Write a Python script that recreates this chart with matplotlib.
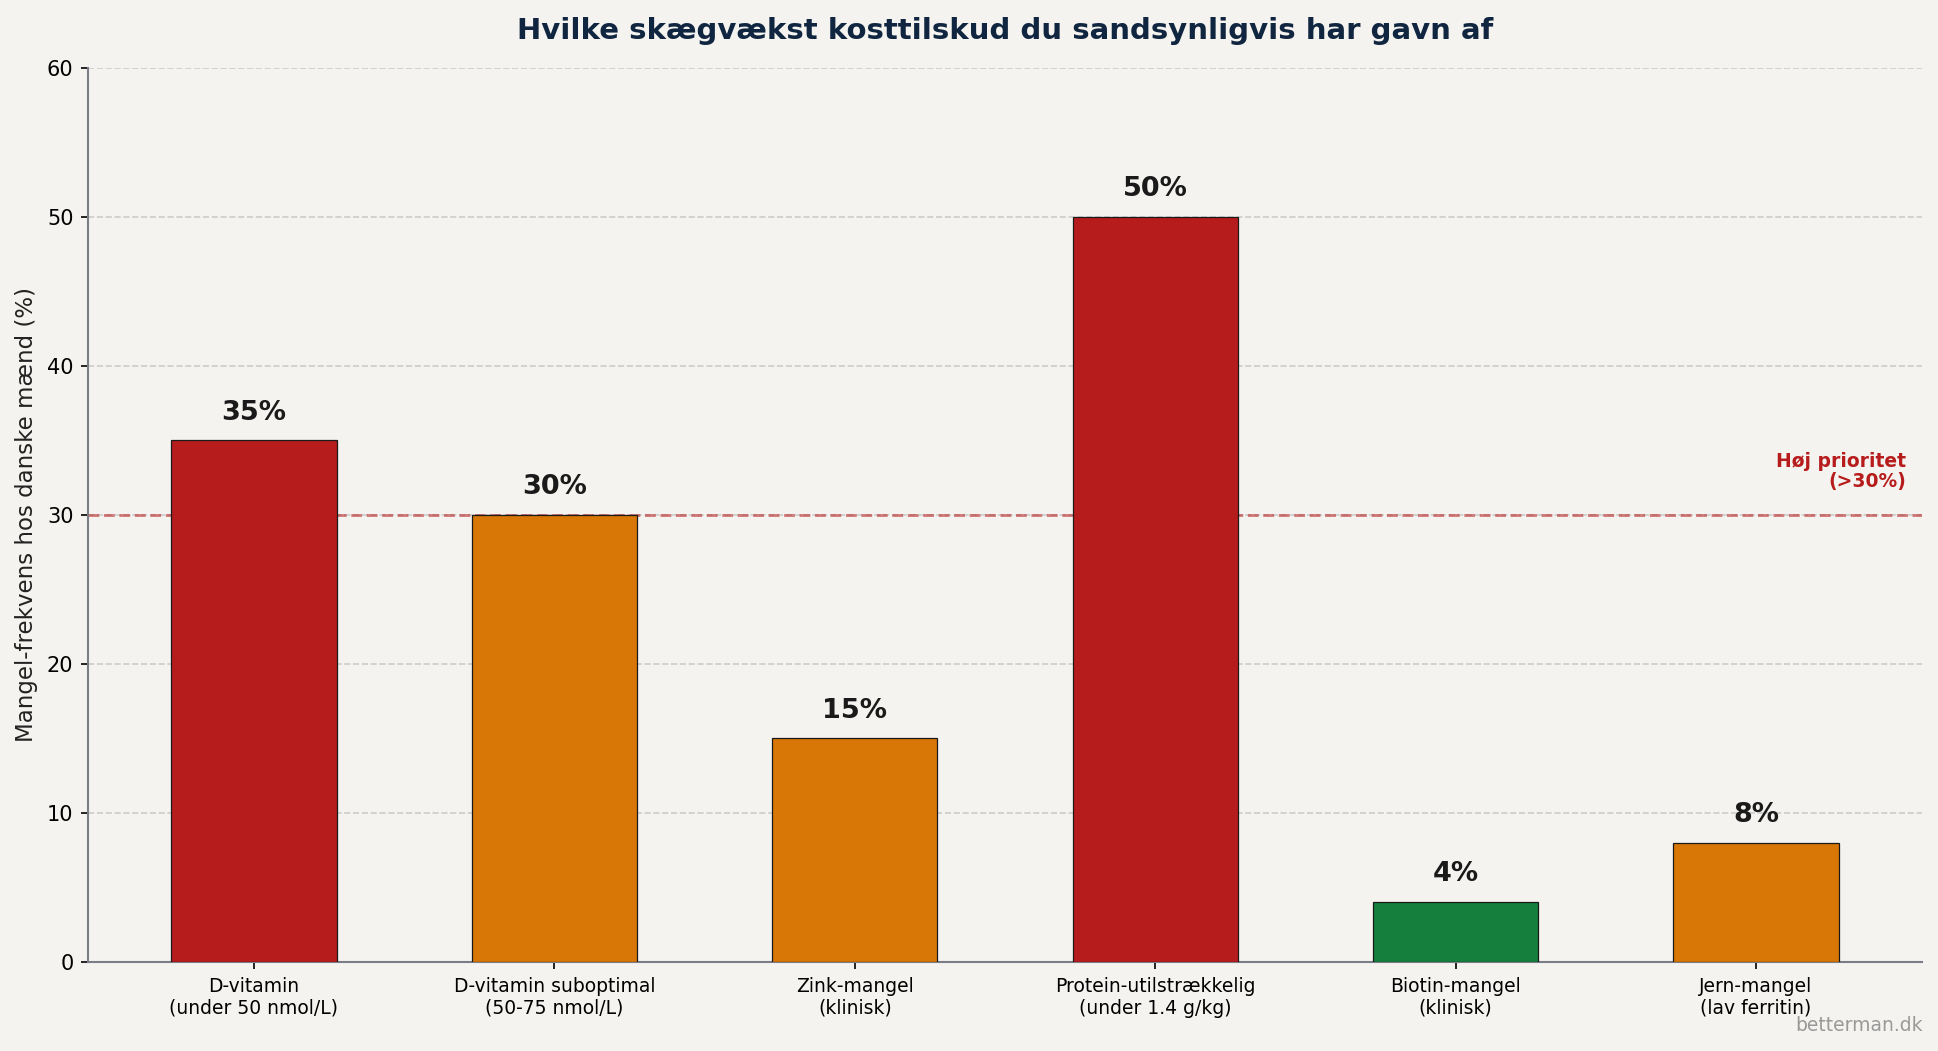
import matplotlib
matplotlib.use("Agg")
import matplotlib.pyplot as plt

categories = ["D-vitamin\n(under 50 nmol/L)", "D-vitamin suboptimal\n(50-75 nmol/L)", "Zink-mangel\n(klinisk)",
              "Protein-utilstrækkelig\n(under 1.4 g/kg)", "Biotin-mangel\n(klinisk)", "Jern-mangel\n(lav ferritin)"]
values = [35, 30, 15, 50, 4, 8]
colors = ["#b71c1c", "#d97706", "#d97706", "#b71c1c", "#15803d", "#d97706"]
threshold = 30
yticks = [0, 10, 20, 30, 40, 50, 60]

bg = "#f4f3ef"
fig = plt.figure(figsize=(1938/150, 1051/150), dpi=150, facecolor=bg)
ax = fig.add_axes([0.0454, 0.0847, 0.9463, 0.8506], facecolor=bg)

x = list(range(len(categories)))
ax.bar(x, values, width=0.55, color=colors, edgecolor="#1a1a1a", linewidth=0.6, zorder=3)
for xi, v in zip(x, values):
    ax.text(xi, v + 1, f"{v}%", ha="center", va="bottom", fontsize=13, fontweight="bold", color="#1a1a1a", zorder=4)

ax.axhline(threshold, color="#b71c1c", linestyle="--", linewidth=1.4, alpha=0.55, zorder=2)
ax.text(5.5, threshold + 1.6, "Høj prioritet\n(>30%)", ha="right", va="bottom", fontsize=9,
        fontweight="bold", color="#b71c1c", linespacing=1.1)

ax.set_ylim(0, 60)
ax.set_yticks(yticks)
ax.set_xticks(x)
ax.set_xticklabels(categories, fontsize=9)
ax.tick_params(axis="y", labelsize=10)
ax.set_ylabel("Mangel-frekvens hos danske mænd (%)", fontsize=11, color="#222222")
ax.set_title("Hvilke skægvækst kosttilskud du sandsynligvis har gavn af", fontsize=14,
             fontweight="bold", color="#10253f", pad=14)
ax.grid(axis="y", linestyle="--", color="#cccccc", linewidth=0.8, zorder=0)
ax.set_axisbelow(True)
for s in ["top", "right"]:
    ax.spines[s].set_visible(False)
for s in ["left", "bottom"]:
    ax.spines[s].set_color("#7a7d88")
    ax.spines[s].set_linewidth(1.0)

fig.text(0.992, 0.015, "betterman.dk", ha="right", va="bottom", fontsize=9, color="#999999")

fig.savefig("out.png", dpi=150, facecolor=bg)
